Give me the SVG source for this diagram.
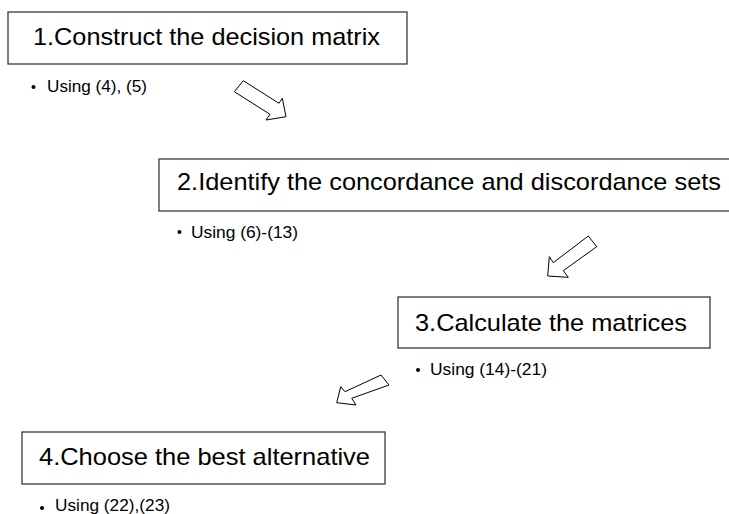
<svg xmlns="http://www.w3.org/2000/svg" width="729" height="514" viewBox="0 0 729 514">
<style>
.box{fill:#fff;stroke:#3a3a3a;stroke-width:1.3}
.title{font-family:"Liberation Sans",Arial,sans-serif;font-size:24px;fill:#000}
.sub{font-family:"Liberation Sans",Arial,sans-serif;font-size:16.5px;fill:#000}
.dot{fill:#000}
.arrow{fill:#fff;stroke:#000;stroke-width:1;stroke-linejoin:miter}
</style>
<rect width="729" height="514" fill="#fff"/>
<g id="node1">
<rect class="box" x="8" y="12" width="399" height="52"/>
<text class="title" x="33" y="45" textLength="347" lengthAdjust="spacingAndGlyphs">1.Construct the decision matrix</text>
<circle class="dot" cx="33.5" cy="87" r="2"/>
<text class="sub" x="47" y="92" textLength="100" lengthAdjust="spacingAndGlyphs">Using (4), (5)</text>
</g>
<g id="node2">
<rect class="box" x="159" y="159" width="590" height="52"/>
<text class="title" x="177" y="190" textLength="544" lengthAdjust="spacingAndGlyphs">2.Identify the concordance and discordance sets</text>
<circle class="dot" cx="179.5" cy="232" r="2"/>
<text class="sub" x="191" y="237.5" textLength="107" lengthAdjust="spacingAndGlyphs">Using (6)-(13)</text>
</g>
<g id="node3">
<rect class="box" x="398" y="297" width="312" height="51"/>
<text class="title" x="415" y="331" textLength="272" lengthAdjust="spacingAndGlyphs">3.Calculate the matrices</text>
<circle class="dot" cx="418" cy="370" r="2"/>
<text class="sub" x="430" y="374.5" textLength="117" lengthAdjust="spacingAndGlyphs">Using (14)-(21)</text>
</g>
<g id="node4">
<rect class="box" x="22" y="432" width="363" height="52"/>
<text class="title" x="39" y="465" textLength="331" lengthAdjust="spacingAndGlyphs">4.Choose the best alternative</text>
<circle class="dot" cx="42" cy="508" r="2"/>
<text class="sub" x="55" y="511" textLength="115" lengthAdjust="spacingAndGlyphs">Using (22),(23)</text>
</g>
<g id="connectors">
<polygon class="arrow" points="243.3,80.7 279,103.3 282.3,98.3 286,116.7 266,120 270,114.3 234.3,91.7"/>
<polygon class="arrow" points="596.7,246.7 563.3,270.7 568.3,277.3 547.7,276 549.3,256.7 553.3,262.7 588.3,236"/>
<polygon class="arrow" points="389,385 351.7,398.3 356,405 336.7,402.7 340.7,386.7 345,391.7 381,375"/>
</g>
</svg>
